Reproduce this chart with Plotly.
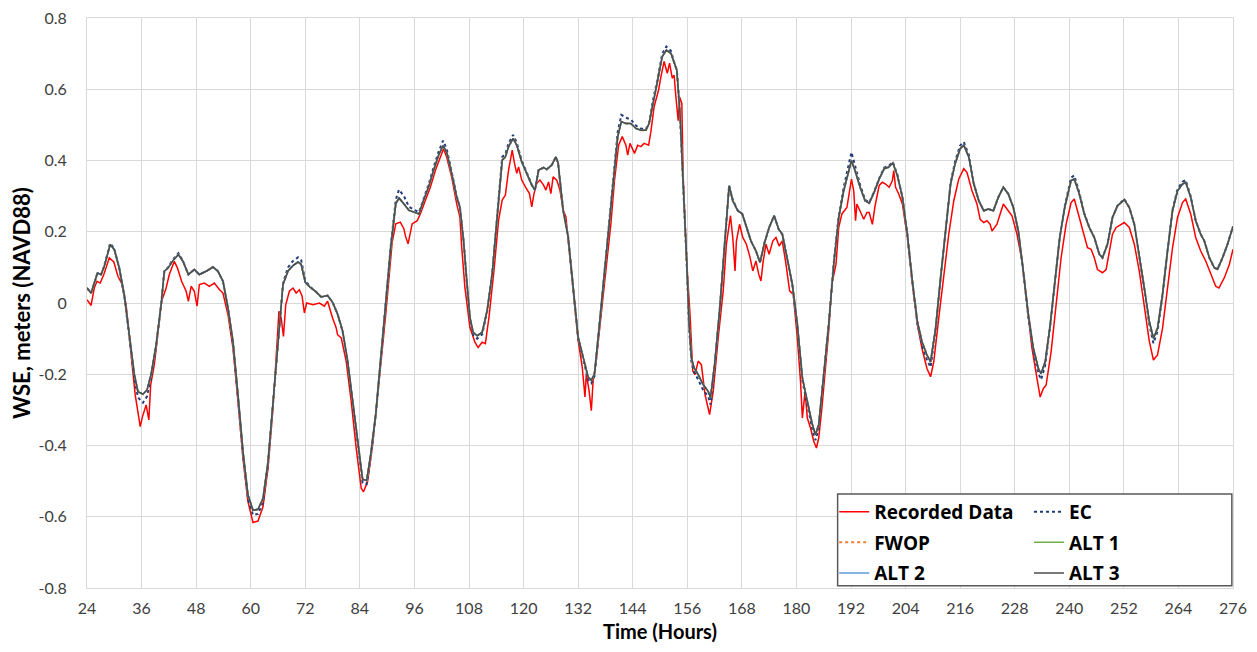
import plotly.graph_objects as go

# ---------------- data ----------------
x_ticks = list(range(24, 277, 12))
y_ticks = [-0.8, -0.6, -0.4, -0.2, 0, 0.2, 0.4, 0.6, 0.8]
y_tick_labels = ["-0.8", "-0.6", "-0.4", "-0.2", "0", "0.2", "0.4", "0.6", "0.8"]

# model time stamps (hours) and ALT 3 water-surface elevations (m)
t_model = [24.0, 24.9, 26.3, 27.1, 27.8, 29.1, 30.0, 31.1, 32.2, 33.3, 34.4, 35.2, 36.3, 37.2, 38.1,
           39.2, 40.3, 41.0, 41.8, 42.9, 44.1, 45.1, 46.3, 47.6, 48.7, 50.2, 51.7, 52.8, 53.9, 55.0,
           56.1, 57.2, 58.3, 59.4, 60.5, 61.6, 62.7, 63.8, 64.9, 66.0, 67.1, 68.2, 69.3, 70.4, 71.1,
           72.0, 73.0, 74.3, 75.5, 76.9, 78.0, 79.1, 80.2, 81.3, 82.4, 83.5, 84.6, 85.5, 86.4, 87.5,
           88.6, 89.7, 90.8, 91.9, 92.6, 93.7, 94.8, 95.9, 97.0, 98.0, 99.1, 100.2, 101.3, 102.3, 103.1,
           104.2, 105.3, 106.0, 106.8, 107.5, 108.2, 108.9, 109.8, 110.9, 112.0, 113.1, 114.2, 114.9, 115.3,
           116.0, 116.7, 117.7, 118.5, 119.6, 120.7, 121.8, 122.5, 123.3, 124.4, 125.1, 126.2, 127.1, 127.6,
           128.7, 129.8, 130.9, 132.0, 133.1, 134.2, 134.9, 135.6, 136.7, 137.8, 138.9, 140.0, 140.7, 141.5,
           142.5, 143.6, 144.7, 145.8, 146.9, 147.6, 148.4, 149.5, 150.5, 151.4, 152.4, 153.1, 153.7, 154.4,
           155.1, 155.9, 156.4, 156.9, 157.5, 158.4, 159.5, 160.6, 161.1, 162.0, 163.1, 164.2, 165.2, 166.0,
           167.1, 168.1, 169.0, 170.0, 171.1, 172.0, 173.0, 174.0, 175.1, 176.1, 176.9, 178.0, 179.1, 180.2,
           181.3, 182.4, 183.5, 184.2, 184.9, 186.0, 187.1, 188.2, 189.3, 190.4, 191.1, 192.1, 192.9, 194.0,
           195.1, 196.0, 197.1, 198.2, 199.3, 200.2, 201.2, 202.2, 203.3, 204.4, 205.5, 206.6, 207.6, 208.7,
           209.5, 210.6, 211.7, 212.8, 213.9, 214.9, 216.0, 216.8, 217.9, 219.0, 220.1, 221.2, 222.2, 223.3,
           224.4, 225.5, 226.6, 227.7, 228.8, 229.9, 231.0, 232.1, 233.2, 233.8, 234.7, 235.8, 236.8, 237.9,
           239.0, 240.4, 241.1, 242.2, 243.3, 244.4, 245.5, 246.6, 247.3, 248.4, 249.5, 250.6, 252.1, 253.2,
           254.3, 255.4, 256.5, 257.6, 258.5, 259.4, 260.5, 261.6, 262.7, 263.8, 264.9, 265.6, 266.7, 267.8,
           268.9, 269.7, 270.8, 271.9, 272.6, 273.7, 274.8, 276.0]

alt3 = [0.042, 0.028, 0.084, 0.080, 0.103, 0.164, 0.150, 0.098, 0.023, -0.089, -0.200, -0.249, -0.256, -0.244, -0.200,
        -0.117, -0.005, 0.089, 0.098, 0.119, 0.136, 0.117, 0.080, 0.094, 0.080, 0.089, 0.101, 0.089, 0.061, -0.014,
        -0.108, -0.258, -0.417, -0.539, -0.582, -0.579, -0.549, -0.446, -0.277, -0.108, 0.052, 0.090, 0.105, 0.115, 0.108,
        0.058, 0.045, 0.032, 0.017, 0.021, 0.002, -0.031, -0.078, -0.162, -0.274, -0.396, -0.495, -0.498, -0.424, -0.312,
        -0.162, 0.007, 0.156, 0.278, 0.295, 0.278, 0.260, 0.255, 0.250, 0.288, 0.325, 0.372, 0.414, 0.442, 0.423,
        0.363, 0.297, 0.269, 0.175, 0.063, -0.040, -0.082, -0.092, -0.082, -0.021, 0.082, 0.242, 0.364, 0.401,
        0.410, 0.439, 0.462, 0.443, 0.396, 0.364, 0.331, 0.317, 0.373, 0.380, 0.375, 0.387, 0.410, 0.392,
        0.261, 0.186, 0.036, -0.096, -0.152, -0.208, -0.217, -0.199, -0.058, 0.092, 0.242, 0.392, 0.467, 0.509,
        0.504, 0.504, 0.490, 0.485, 0.485, 0.504, 0.560, 0.626, 0.692, 0.710, 0.701, 0.673, 0.653, 0.531,
        0.343, 0.109, -0.060, -0.154, -0.182, -0.201, -0.229, -0.248, -0.266, -0.173, -0.023, 0.156, 0.329, 0.287,
        0.259, 0.250, 0.212, 0.174, 0.146, 0.114, 0.170, 0.212, 0.245, 0.207, 0.193, 0.118, 0.053, -0.060,
        -0.210, -0.276, -0.341, -0.370, -0.341, -0.201, -0.060, 0.109, 0.240, 0.315, 0.353, 0.400, 0.371, 0.325,
        0.287, 0.280, 0.311, 0.348, 0.377, 0.381, 0.393, 0.358, 0.297, 0.193, 0.061, -0.052, -0.108, -0.146,
        -0.165, -0.071, 0.071, 0.212, 0.334, 0.391, 0.433, 0.443, 0.410, 0.334, 0.287, 0.259, 0.264, 0.259,
        0.297, 0.325, 0.306, 0.268, 0.202, 0.089, -0.033, -0.127, -0.184, -0.198, -0.165, -0.061, 0.061, 0.184,
        0.268, 0.344, 0.348, 0.306, 0.250, 0.212, 0.184, 0.137, 0.127, 0.165, 0.240, 0.273, 0.290, 0.268,
        0.221, 0.137, 0.042, -0.052, -0.099, -0.071, 0.024, 0.146, 0.259, 0.315, 0.334, 0.339, 0.297, 0.231,
        0.193, 0.174, 0.127, 0.099, 0.095, 0.127, 0.165, 0.215]

# EC (existing condition) - slightly higher peaks / deeper troughs than ALT 3
ec = [0.042, 0.028, 0.084, 0.080, 0.105, 0.168, 0.152, 0.098, 0.020, -0.092, -0.210, -0.265, -0.280, -0.262, -0.210,
      -0.120, -0.005, 0.089, 0.100, 0.122, 0.140, 0.118, 0.080, 0.094, 0.080, 0.089, 0.101, 0.089, 0.061, -0.016,
      -0.112, -0.265, -0.425, -0.550, -0.595, -0.592, -0.560, -0.452, -0.280, -0.108, 0.056, 0.100, 0.118, 0.128, 0.120,
      0.062, 0.047, 0.032, 0.017, 0.021, 0.002, -0.031, -0.080, -0.166, -0.280, -0.402, -0.505, -0.508, -0.430, -0.315,
      -0.162, 0.010, 0.162, 0.290, 0.318, 0.300, 0.270, 0.262, 0.255, 0.292, 0.332, 0.380, 0.424, 0.456, 0.432,
      0.368, 0.300, 0.270, 0.175, 0.060, -0.045, -0.090, -0.100, -0.088, -0.024, 0.082, 0.245, 0.370, 0.410,
      0.418, 0.448, 0.472, 0.450, 0.400, 0.366, 0.332, 0.318, 0.373, 0.380, 0.375, 0.387, 0.410, 0.392,
      0.261, 0.186, 0.033, -0.100, -0.158, -0.215, -0.225, -0.205, -0.060, 0.092, 0.245, 0.400, 0.480, 0.528,
      0.520, 0.515, 0.498, 0.490, 0.488, 0.506, 0.565, 0.632, 0.700, 0.720, 0.708, 0.676, 0.655, 0.531,
      0.340, 0.105, -0.068, -0.165, -0.195, -0.215, -0.245, -0.262, -0.285, -0.182, -0.025, 0.156, 0.330, 0.290,
      0.260, 0.250, 0.212, 0.174, 0.146, 0.114, 0.170, 0.212, 0.245, 0.207, 0.193, 0.118, 0.050, -0.065,
      -0.218, -0.286, -0.355, -0.385, -0.352, -0.206, -0.060, 0.112, 0.245, 0.325, 0.368, 0.423, 0.385, 0.332,
      0.290, 0.282, 0.313, 0.350, 0.380, 0.384, 0.396, 0.360, 0.297, 0.190, 0.058, -0.058, -0.118, -0.160,
      -0.180, -0.078, 0.068, 0.212, 0.338, 0.398, 0.442, 0.452, 0.416, 0.336, 0.287, 0.259, 0.264, 0.259,
      0.297, 0.325, 0.306, 0.268, 0.200, 0.085, -0.040, -0.137, -0.198, -0.215, -0.175, -0.065, 0.061, 0.184,
      0.272, 0.352, 0.358, 0.310, 0.252, 0.212, 0.184, 0.137, 0.127, 0.165, 0.240, 0.273, 0.292, 0.268,
      0.221, 0.135, 0.038, -0.060, -0.113, -0.080, 0.020, 0.146, 0.262, 0.320, 0.340, 0.345, 0.300, 0.231,
      0.193, 0.174, 0.127, 0.099, 0.095, 0.127, 0.165, 0.215]

# FWOP, ALT 1 and ALT 2 plot on top of ALT 3 throughout (indistinguishable in the picture)
fwop = list(alt3)
alt1 = list(alt3)
alt2 = list(alt3)

# recorded (observed) data
t_rec = [24.0, 24.9, 25.6, 26.2, 26.9, 27.7, 28.9, 29.9, 30.8, 31.6, 32.6, 33.7, 34.6, 35.3, 35.7, 36.2, 37.0, 37.6,
         38.0, 38.8, 39.6, 40.4, 41.4, 42.1, 43.2, 43.9, 44.8, 45.8, 46.3, 46.9, 47.6, 48.2, 48.7, 49.8, 50.9, 52.0,
         53.1, 53.9, 55.0, 56.1, 57.2, 58.3, 59.4, 60.5, 61.6, 62.7, 63.8, 64.9, 65.8, 66.2, 66.7, 67.2, 67.7, 68.5,
         69.3, 70.0, 70.7, 71.3, 71.8, 72.3, 73.7, 75.1, 76.2, 76.9, 78.0, 78.8, 79.1, 79.9, 81.0, 82.1, 83.2, 84.3,
         84.8, 85.7, 86.8, 88.2, 89.2, 89.7, 90.4, 91.1, 91.9, 92.9, 93.7, 94.0, 94.6, 95.5, 96.6, 97.3, 98.4, 99.5,
         100.6, 101.7, 102.4, 103.1, 104.2, 105.3, 106.0, 106.4, 107.1, 108.2, 109.3, 110.0, 110.9, 111.6, 112.4,
         113.5, 114.5, 115.3, 116.0, 116.7, 117.5, 118.0, 118.5, 118.9, 119.6, 120.4, 121.3, 121.8, 122.3, 122.9,
         123.6, 124.4, 124.9, 125.5, 126.0, 126.5, 127.3, 128.0, 128.7, 129.3, 129.8, 130.9, 132.0, 132.9, 133.5,
         133.8, 134.4, 134.9, 135.3, 135.9, 136.7, 137.8, 138.5, 139.2, 140.0, 140.9, 141.7, 142.5, 142.9, 143.4,
         144.4, 145.1, 145.8, 146.5, 147.5, 148.0, 148.7, 149.7, 150.2, 150.9, 151.6, 152.1, 152.7, 153.1, 153.5,
         154.0, 154.3, 154.8, 155.1, 155.9, 156.6, 157.2, 157.7, 158.4, 159.1, 159.9, 160.9, 161.7, 162.8, 163.9,
         164.6, 165.5, 166.0, 166.5, 166.8, 167.5, 168.2, 169.0, 169.8, 170.4, 171.1, 171.7, 172.2, 172.7, 173.3,
         174.0, 174.8, 175.5, 176.2, 176.9, 177.7, 178.5, 179.3, 180.2, 180.9, 181.3, 181.9, 182.4, 183.1, 183.8,
         184.4, 184.9, 185.6, 186.5, 187.1, 187.8, 188.7, 189.3, 190.0, 191.1, 192.1, 192.6, 193.0, 193.3, 194.0,
         194.8, 195.5, 196.0, 196.7, 197.3, 198.2, 198.9, 199.6, 200.4, 201.1, 201.4, 201.8, 202.5, 203.3, 204.4,
         205.5, 206.6, 207.6, 208.7, 209.5, 210.2, 211.3, 212.4, 213.5, 214.6, 215.7, 216.8, 217.5, 218.6, 219.7,
         220.4, 221.2, 221.9, 222.6, 223.0, 224.1, 224.8, 225.5, 226.3, 227.4, 228.5, 229.6, 230.7, 231.8, 232.9,
         233.6, 234.3, 234.9, 236.0, 237.1, 238.2, 239.3, 240.4, 241.1, 241.8, 242.9, 244.0, 244.8, 245.5, 246.2,
         247.3, 248.1, 248.8, 249.5, 250.3, 251.0, 252.1, 253.2, 254.3, 255.4, 256.5, 257.6, 258.5, 259.4, 260.5,
         261.6, 262.7, 263.8, 264.9, 265.6, 266.7, 267.8, 268.9, 270.0, 271.1, 272.2, 272.9, 274.1, 275.2, 276.0]

recorded = [0.009, -0.007, 0.042, 0.061, 0.056, 0.080, 0.127, 0.115, 0.075, 0.056, -0.005, -0.136, -0.258, -0.314, -0.347, -0.319, -0.286, -0.328,
            -0.230, -0.174, -0.089, 0.005, 0.042, 0.080, 0.117, 0.098, 0.061, 0.033, 0.005, 0.047, 0.033, -0.009, 0.052, 0.056, 0.047, 0.056,
            0.038, 0.028, -0.033, -0.127, -0.277, -0.436, -0.558, -0.616, -0.612, -0.572, -0.464, -0.295, -0.110, -0.023, -0.042, -0.094, -0.005, 0.033,
            0.042, 0.028, 0.037, 0.019, -0.028, 0.000, -0.005, 0.000, -0.009, 0.005, -0.042, -0.070, -0.089, -0.098, -0.164, -0.276, -0.408, -0.520,
            -0.530, -0.501, -0.398, -0.209, -0.096, -0.031, 0.063, 0.170, 0.222, 0.227, 0.208, 0.189, 0.166, 0.222, 0.231, 0.250, 0.288, 0.325,
            0.372, 0.409, 0.433, 0.409, 0.353, 0.278, 0.241, 0.156, 0.044, -0.068, -0.110, -0.125, -0.110, -0.114, -0.039,
            0.092, 0.232, 0.289, 0.303, 0.373, 0.429, 0.392, 0.364, 0.382, 0.345, 0.326, 0.307, 0.270, 0.307, 0.336,
            0.345, 0.331, 0.317, 0.340, 0.307, 0.354, 0.345, 0.317, 0.261, 0.242, 0.176, 0.026, -0.105, -0.180, -0.264,
            -0.199, -0.246, -0.302, -0.217, -0.171, -0.077, 0.054, 0.129, 0.223, 0.345, 0.443, 0.467, 0.443, 0.415, 0.448,
            0.420, 0.443, 0.439, 0.448, 0.443, 0.481, 0.551, 0.598, 0.635, 0.678, 0.645, 0.673, 0.631, 0.640, 0.578,
            0.512, 0.578, 0.560, 0.353, 0.109, -0.032, -0.191, -0.201, -0.163, -0.173, -0.257, -0.313, -0.248, -0.098, 0.034,
            0.165, 0.245, 0.184, 0.090, 0.174, 0.221, 0.184, 0.165, 0.128, 0.090, 0.118, 0.081, 0.062, 0.118, 0.165,
            0.137, 0.174, 0.184, 0.160, 0.174, 0.109, 0.034, 0.024, -0.098, -0.220, -0.323, -0.248, -0.323, -0.351, -0.388,
            -0.407, -0.379, -0.295, -0.163, -0.079, 0.053, 0.109, 0.212, 0.250, 0.268, 0.348, 0.315, 0.231, 0.278, 0.259,
            0.235, 0.254, 0.254, 0.221, 0.273, 0.330, 0.339, 0.334, 0.325, 0.344, 0.372, 0.325, 0.306, 0.278, 0.184,
            0.052, -0.061, -0.127, -0.184, -0.207, -0.165, -0.042, 0.071, 0.193, 0.287, 0.348, 0.377, 0.367, 0.315, 0.278,
            0.235, 0.226, 0.231, 0.221, 0.202, 0.221, 0.250, 0.278, 0.264, 0.245, 0.193, 0.118, -0.005, -0.127, -0.212,
            -0.264, -0.240, -0.231, -0.137, 0.005, 0.127, 0.221, 0.282, 0.292, 0.259, 0.202, 0.155, 0.151, 0.127, 0.094,
            0.085, 0.094, 0.146, 0.193, 0.212, 0.217, 0.226, 0.212, 0.165, 0.089, -0.014, -0.108, -0.160, -0.146, -0.071,
            0.042, 0.155, 0.240, 0.282, 0.292, 0.250, 0.184, 0.146, 0.118, 0.080, 0.047, 0.042, 0.071, 0.108, 0.151]

# ---------------- figure ----------------
FONT = "Lato"
fig = go.Figure()

series = [
    ("Recorded Data", t_rec, recorded, dict(color="#FF0000", width=1.5), "legend"),
    ("EC", t_model, ec, dict(color="#203C7A", width=2, dash="dot"), "legend2"),
    ("FWOP", t_model, fwop, dict(color="#ED7D31", width=2, dash="dot"), "legend"),
    ("ALT 1", t_model, alt1, dict(color="#70AD47", width=1.5), "legend2"),
    ("ALT 2", t_model, alt2, dict(color="#5B9BD5", width=1.5), "legend"),
    ("ALT 3", t_model, alt3, dict(color="#4D4D4D", width=1.5), "legend2"),
]
for name, xs, ys, line, leg in series:
    fig.add_trace(go.Scatter(x=xs, y=ys, name=name, mode="lines", line=line,
                             legend=leg, legendgroup=name))

grid = "#D9D9D9"
tick_font = dict(family=FONT, size=16, color="#404040")
fig.update_xaxes(range=[24, 276], tickmode="array", tickvals=x_ticks,
                 ticktext=[str(v) for v in x_ticks], automargin=False,
                 showgrid=True, gridcolor=grid, gridwidth=1, zeroline=False,
                 showline=True, linecolor=grid, linewidth=1, mirror=True,
                 ticks="", tickfont=tick_font, ticklabelstandoff=6, ticklabeloverflow="allow",
                 title=dict(text="<b>Time (Hours)</b>", font=dict(family=FONT, size=20, color="#000000"),
                            standoff=8))
fig.update_yaxes(range=[-0.8, 0.8], tickmode="array", tickvals=y_ticks, ticktext=y_tick_labels,
                 automargin=False,
                 showgrid=True, gridcolor=grid, gridwidth=1, zeroline=False,
                 showline=True, linecolor=grid, linewidth=1, mirror=True,
                 ticks="", tickfont=tick_font, ticklabelstandoff=16, ticklabeloverflow="allow",
                 title=dict(text="<b>WSE, meters (NAVD88)</b>", font=dict(family=FONT, size=22, color="#000000"),
                            standoff=6))

leg_font = dict(family="Open Sans", size=19, color="#000000", weight="bold")
fig.update_layout(
    # the page body has an 8 px margin, so the figure is sized/offset to compensate
    width=1241, height=636,
    margin=dict(l=79, r=16, t=10, b=56),
    paper_bgcolor="white", plot_bgcolor="white",
    font=dict(family=FONT),
    showlegend=True,
    legend=dict(x=0.652, y=0.167, xanchor="left", yanchor="top", bgcolor="rgba(0,0,0,0)",
                font=leg_font, itemwidth=30, tracegroupgap=3, traceorder="grouped"),
    legend2=dict(x=0.822, y=0.167, xanchor="left", yanchor="top", bgcolor="rgba(0,0,0,0)",
                 font=leg_font, itemwidth=30, tracegroupgap=3, traceorder="grouped"),
    shapes=[dict(type="rect", xref="paper", yref="paper", x0=0.655, x1=0.999, y0=0.004, y1=0.165,
                 line=dict(color="#595959", width=1.5), fillcolor="white", layer="above")],
)

fig.write_html("out.html")
